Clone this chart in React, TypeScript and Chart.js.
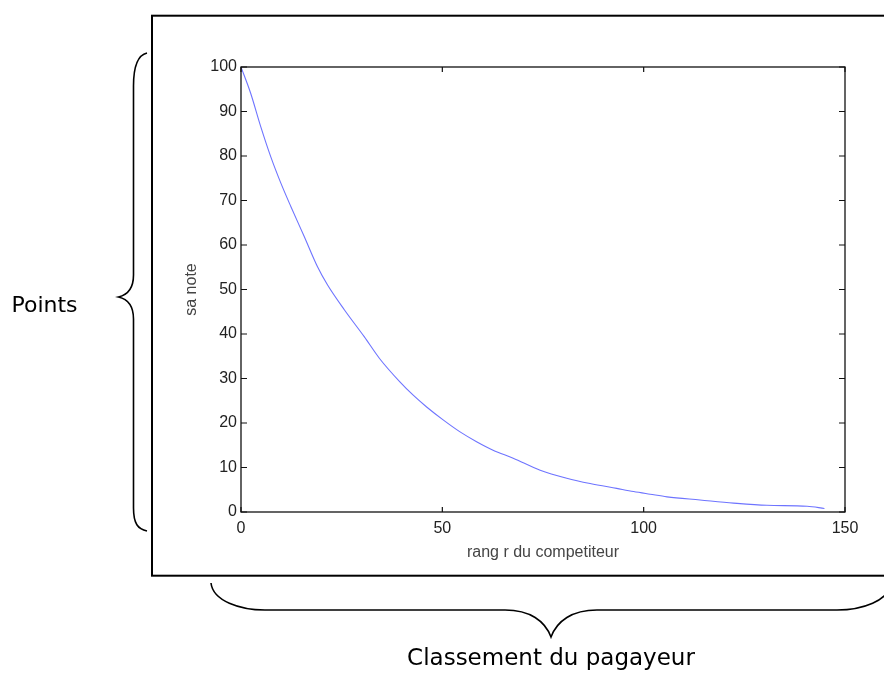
import React, { useEffect, useRef } from "react";
import { Chart, registerables } from "chart.js";

Chart.register(...registerables);

// Data
const rank = [0, 2.4, 4.9, 7.4, 9.9, 12.4, 15.7, 19, 21.5, 25.7, 30.6, 34.4, 39.4, 42.7, 46.1, 50.2, 54.4, 58.5, 62.6, 67.6, 74.3, 80.9, 86.7, 93.3, 97.5, 101.6, 105.8, 114, 122.3, 130.6, 140.6, 144.9];
const note = [100, 94.1, 86.6, 79.8, 73.9, 68.6, 61.9, 55.1, 51.0, 45.4, 39.4, 34.5, 29.3, 26.3, 23.6, 20.7, 18.0, 15.8, 13.9, 12.1, 9.4, 7.6, 6.4, 5.3, 4.6, 4.0, 3.4, 2.7, 2.0, 1.5, 1.3, 0.8];
const xTickValues = [0, 50, 100, 150];
const yTickValues = [0, 10, 20, 30, 40, 50, 60, 70, 80, 90, 100];
const xTitle = "rang r du competiteur";
const yTitle = "sa note";
const leftLabel = "Points";
const bottomLabel = "Classement du pagayeur";

const W = 884;
const H = 673;
const axisFont = "'Liberation Sans', Arial, Helvetica, sans-serif";
const noteFont = "'DejaVu Sans', Verdana, sans-serif";

const overlay = {
  id: "overlay",
  afterDraw(chart: any) {
    const { ctx, chartArea } = chart;
    const { left, top, right, bottom } = chartArea;
    const xs = chart.scales.x;
    const ys = chart.scales.y;
    ctx.save();
    // plot box
    ctx.strokeStyle = "#111";
    ctx.lineWidth = 1.3;
    ctx.strokeRect(left, top, right - left, bottom - top);
    // inward ticks on all four sides
    ctx.lineWidth = 1.2;
    ctx.beginPath();
    xTickValues.forEach((v) => {
      const px = xs.getPixelForValue(v);
      ctx.moveTo(px, bottom);
      ctx.lineTo(px, bottom - 5);
      ctx.moveTo(px, top);
      ctx.lineTo(px, top + 5);
    });
    yTickValues.forEach((v) => {
      const py = ys.getPixelForValue(v);
      ctx.moveTo(left, py);
      ctx.lineTo(left + 6, py);
      ctx.moveTo(right, py);
      ctx.lineTo(right - 6, py);
    });
    ctx.stroke();

    // outer frame
    ctx.strokeStyle = "#000";
    ctx.lineWidth = 2;
    ctx.strokeRect(152, 15.7, 800, 560);

    // braces
    ctx.lineWidth = 1.6;
    ctx.beginPath();
    ctx.moveTo(147, 53);
    ctx.bezierCurveTo(138, 55, 133.5, 66, 133.5, 86);
    ctx.lineTo(133.5, 275);
    ctx.bezierCurveTo(133.5, 289, 127, 295, 118.5, 297);
    ctx.bezierCurveTo(127, 299, 133.5, 305, 133.5, 319);
    ctx.lineTo(133.5, 508);
    ctx.bezierCurveTo(133.5, 524, 138, 529, 147, 531);
    ctx.stroke();

    ctx.beginPath();
    ctx.moveTo(211, 583);
    ctx.bezierCurveTo(213, 601, 240, 610, 265, 610);
    ctx.lineTo(505, 610);
    ctx.bezierCurveTo(530, 610, 545, 621, 551, 637);
    ctx.bezierCurveTo(557, 621, 572, 610, 597, 610);
    ctx.lineTo(837, 610);
    ctx.bezierCurveTo(862, 610, 889, 601, 891, 583);
    ctx.stroke();

    // annotation labels
    ctx.fillStyle = "#000";
    ctx.textBaseline = "alphabetic";
    ctx.font = `22px ${noteFont}`;
    ctx.textAlign = "left";
    ctx.fillText(leftLabel, 11.5, 311.5);
    ctx.font = `23px ${noteFont}`;
    ctx.textAlign = "center";
    ctx.fillText(bottomLabel, 551, 665);
    ctx.restore();
  },
};

export default function App() {
  const ref = useRef<HTMLCanvasElement | null>(null);

  useEffect(() => {
    if (!ref.current) return;
    const chart = new Chart(ref.current, {
      type: "scatter",
      data: {
        datasets: [
          {
            data: rank.map((r, i) => ({ x: r, y: note[i] })),
            showLine: true,
            borderColor: "#6e74ff",
            borderWidth: 1.1,
            pointRadius: 0,
            cubicInterpolationMode: "monotone",
          },
        ],
      },
      options: {
        animation: false,
        responsive: false,
        events: [],
        layout: { padding: { left: 182, top: 67, right: 39, bottom: 111 } },
        plugins: { legend: { display: false }, tooltip: { enabled: false } },
        scales: {
          x: {
            type: "linear",
            min: 0,
            max: 150,
            afterBuildTicks: (s: any) => {
              s.ticks = xTickValues.map((v) => ({ value: v }));
            },
            afterFit: (s: any) => {
              s.height = 50;
            },
            grid: { display: false, drawTicks: false },
            border: { display: false },
            ticks: {
              padding: 7,
              color: "#222",
              font: { family: axisFont, size: 16 },
              maxRotation: 0,
            },
            title: {
              display: true,
              text: xTitle,
              color: "#444",
              padding: 0,
              font: { family: axisFont, size: 16 },
            },
          },
          y: {
            type: "linear",
            min: 0,
            max: 100,
            afterBuildTicks: (s: any) => {
              s.ticks = yTickValues.map((v) => ({ value: v }));
            },
            afterFit: (s: any) => {
              s.width = 59;
            },
            grid: { display: false, drawTicks: false },
            border: { display: false },
            ticks: {
              padding: 4,
              color: "#222",
              font: { family: axisFont, size: 16 },
            },
            title: {
              display: true,
              text: yTitle,
              color: "#444",
              padding: 0,
              font: { family: axisFont, size: 16 },
            },
          },
        },
      },
      plugins: [overlay],
    });
    return () => chart.destroy();
  }, []);

  return (
    <div style={{ position: "absolute", left: 0, top: 0, width: W, height: H, background: "#fff", overflow: "hidden" }}>
      <canvas ref={ref} width={W} height={H} style={{ display: "block", width: W, height: H }} />
    </div>
  );
}
